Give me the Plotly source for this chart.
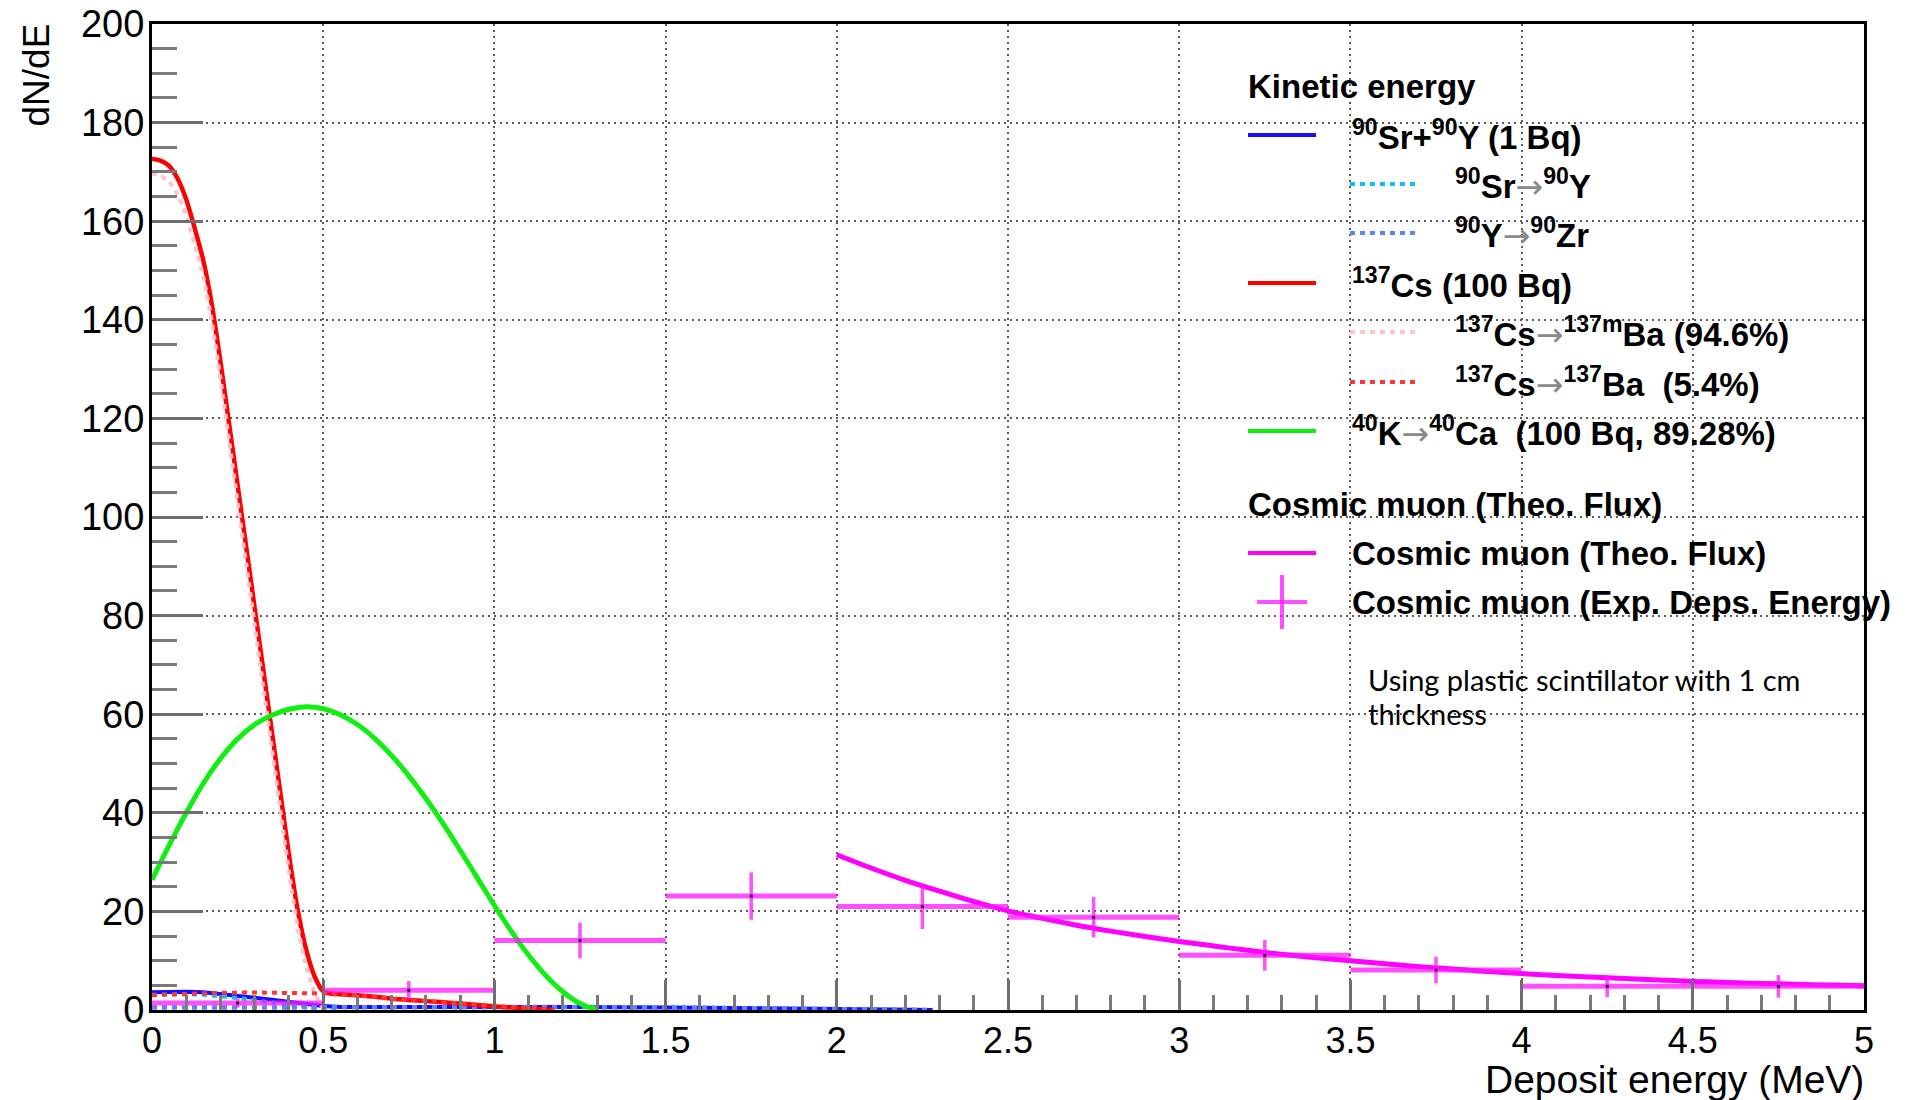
import plotly.graph_objects as go

# ---------------- spectra (dN/dE vs deposit energy in MeV) ----------------
# 90Sr + 90Y total (1 Bq)
sry_e = [0.00, 0.05, 0.10, 0.15, 0.20, 0.25, 0.30, 0.35, 0.40, 0.45, 0.50, 0.55,
         0.75, 1.00, 1.25, 1.50, 1.75, 2.00, 2.15, 2.28]
sry_v = [3.6, 3.7, 3.7, 3.6, 3.3, 3.0, 2.5, 2.1, 1.6, 1.2, 0.8, 0.6,
         0.63, 0.63, 0.6, 0.52, 0.42, 0.25, 0.1, 0.0]

# 90Sr -> 90Y branch
sr_e = [0.00, 0.05, 0.10, 0.15, 0.20, 0.25, 0.30, 0.35, 0.40, 0.45, 0.50, 0.546]
sr_v = [3.1, 3.2, 3.2, 3.1, 2.8, 2.45, 1.95, 1.5, 1.0, 0.6, 0.2, 0.0]

# 90Y -> 90Zr branch
y_e = [0.00, 0.25, 0.50, 0.75, 1.00, 1.25, 1.50, 1.75, 2.00, 2.15, 2.28]
y_v = [0.5, 0.55, 0.6, 0.63, 0.63, 0.6, 0.52, 0.42, 0.25, 0.1, 0.0]

# 137Cs total (100 Bq)
cs_e = [0.000, 0.025, 0.050, 0.075, 0.100, 0.125, 0.150, 0.175, 0.200, 0.225,
        0.250, 0.275, 0.300, 0.325, 0.350, 0.375, 0.400, 0.425, 0.450, 0.475,
        0.500, 0.525, 0.550, 0.600, 0.650, 0.700, 0.750, 0.800, 0.850, 0.900,
        0.950, 1.000, 1.050, 1.100, 1.150, 1.175]
cs_v = [172.7, 172.3, 171.2, 168.6, 164.4, 158.5, 152.0, 143.0, 131.5, 119.0,
        106.5, 94.0, 81.5, 69.0, 56.5, 44.0, 31.5, 20.5, 12.3, 6.8,
        3.8, 3.3, 3.2, 3.0, 2.7, 2.3, 2.05, 1.8, 1.55, 1.3,
        1.0, 0.72, 0.48, 0.28, 0.1, 0.0]

# 137Cs -> 137mBa (94.6 %)
csm_e = [0.000, 0.025, 0.050, 0.075, 0.100, 0.125, 0.150, 0.175, 0.200, 0.225,
         0.250, 0.275, 0.300, 0.325, 0.350, 0.375, 0.400, 0.425, 0.450, 0.475,
         0.500, 0.514]
csm_v = [169.7, 169.2, 168.0, 165.4, 161.1, 155.1, 148.6, 139.5, 128.0, 115.5,
         103.0, 90.5, 78.0, 65.5, 53.0, 40.5, 28.0, 17.0, 8.9, 3.4,
         0.45, 0.0]

# 137Cs -> 137Ba (5.4 %)
csg_e = [0.00, 0.10, 0.20, 0.30, 0.40, 0.50, 0.55, 0.60, 0.65, 0.70, 0.75,
         0.80, 0.85, 0.90, 0.95, 1.00, 1.05, 1.10, 1.15, 1.175]
csg_v = [3.0, 3.3, 3.5, 3.55, 3.5, 3.35, 3.2, 3.0, 2.7, 2.3, 2.05,
         1.8, 1.55, 1.3, 1.0, 0.72, 0.48, 0.28, 0.1, 0.0]

# 40K -> 40Ca (100 Bq, 89.28 %)
k_e = [0.00, 0.05, 0.10, 0.15, 0.20, 0.25, 0.30, 0.35, 0.40, 0.45, 0.50, 0.55,
       0.60, 0.65, 0.70, 0.75, 0.80, 0.85, 0.90, 0.95, 1.00, 1.05, 1.10, 1.15,
       1.20, 1.25, 1.30]
k_v = [26.4, 33.4, 40.0, 46.0, 51.0, 55.0, 57.9, 59.8, 61.0, 61.5, 61.1, 59.9,
       57.9, 55.1, 51.6, 47.5, 42.9, 37.8, 32.4, 26.8, 21.2, 15.9, 11.1, 7.0,
       3.7, 1.3, 0.0]

# Cosmic muon, theoretical flux
mu_e = [2.0, 2.1, 2.2, 2.3, 2.4, 2.5, 2.6, 2.7, 2.8, 2.9, 3.0, 3.1, 3.2, 3.3,
        3.4, 3.5, 3.6, 3.7, 3.8, 3.9, 4.0, 4.1, 4.2, 4.3, 4.4, 4.5, 4.6, 4.7,
        4.8, 4.9, 5.0]
mu_v = [31.5, 28.8, 26.3, 24.1, 22.0, 20.1, 18.6, 17.2, 16.0, 14.9, 13.9, 13.0,
        12.1, 11.3, 10.6, 10.0, 9.4, 8.8, 8.3, 7.8, 7.4, 7.0, 6.7, 6.4, 6.1,
        5.8, 5.6, 5.4, 5.2, 5.05, 4.9]

# Cosmic muon, measured deposited energy (0.5 MeV bins)
exp_e = [0.25, 0.75, 1.25, 1.75, 2.25, 2.75, 3.25, 3.75, 4.25, 4.75]
exp_v = [1.4, 4.0, 14.1, 23.1, 21.0, 18.8, 11.1, 8.1, 4.8, 4.8]
exp_err = [0.9, 1.9, 3.6, 4.8, 4.6, 4.1, 3.1, 2.7, 2.2, 2.3]
exp_half_bin = 0.25

# ---------------- colours ----------------
C_BLUE = "#1a0dff"
C_CYAN = "#12b9ff"
C_LBLUE = "#5b84f7"
C_RED = "#ff0000"
C_PINK = "#ffc2cb"
C_RED2 = "#ff3434"
C_GREEN = "#11ee11"
C_MAG = "#ff00ff"
C_MAGE = "rgba(255,20,255,0.75)"

fig = go.Figure()


def curve(x, y, color, dash="solid", width=4.5, shape="linear", smoothing=1.0):
    line = dict(color=color, width=width, dash=dash, shape=shape)
    if shape == "spline":
        line["smoothing"] = smoothing
    fig.add_trace(go.Scatter(x=x, y=y, mode="lines", hoverinfo="skip", line=line))


curve(sry_e, sry_v, C_BLUE, width=4)
curve(sr_e, sr_v, C_CYAN, dash="5px,5px", width=4)
curve(y_e, y_v, C_LBLUE, dash="5px,5px", width=4.5)
curve(cs_e, cs_v, C_RED, shape="spline", smoothing=0.6)
curve(csm_e, csm_v, C_PINK, dash="5px,5px", width=4, shape="spline", smoothing=0.6)
curve(csg_e, csg_v, C_RED2, dash="5px,5px", width=4)
curve(k_e, k_v, C_GREEN, width=5, shape="spline")
curve(mu_e, mu_v, C_MAG, width=5, shape="spline")

fig.add_trace(go.Scatter(
    x=exp_e, y=exp_v, mode="markers", hoverinfo="skip",
    marker=dict(size=3, color="black"),
    error_x=dict(type="constant", value=exp_half_bin, thickness=5, width=0,
                 color=C_MAGE),
    error_y=dict(type="data", array=exp_err, thickness=3.5, width=0,
                 color=C_MAGE),
))

# ---------------- frame geometry (pixels) ----------------
W, H = 1919, 1100
L, R, T, B = 152, 55, 24, 90
PW, PH = W - L - R, H - T - B


def fx(p):
    return (p - L) / PW


def fy(p):
    return (H - B - p) / PH


FONT = "Liberation Sans, Arial, Helvetica, sans-serif"
axis_style = dict(showgrid=True, gridcolor="#5a5a5a", gridwidth=2, griddash="2px,4px",
                  zeroline=False, showline=True, linecolor="black", linewidth=3,
                  mirror=True, ticks="inside", tickcolor="#6e6e6e", tickwidth=3,
                  automargin=False)

fig.update_layout(
    width=W, height=H,
    margin=dict(l=L, r=R, t=T, b=B, autoexpand=False),
    paper_bgcolor="white", plot_bgcolor="white",
    showlegend=False,
    xaxis=dict(range=[0, 5], tick0=0, dtick=0.5, ticklen=30,
               ticklabelstandoff=-3,
               tickfont=dict(family=FONT, size=36, color="black"),
               minor=dict(dtick=0.1, ticks="inside", ticklen=15, tickwidth=3,
                          tickcolor="#7a7a7a", showgrid=False),
               **axis_style),
    yaxis=dict(range=[0, 200], tick0=0, dtick=20, ticklen=51,
               ticklabelstandoff=-3,
               tickfont=dict(family=FONT, size=38, color="black"),
               minor=dict(dtick=5, ticks="inside", ticklen=25, tickwidth=3,
                          tickcolor="#7a7a7a", showgrid=False),
               **axis_style),
)

# axis titles
fig.add_annotation(text="Deposit energy (MeV)", xref="paper", yref="paper",
                   x=fx(1866), y=fy(1079), xanchor="right", yanchor="middle",
                   showarrow=False, font=dict(family=FONT, size=39, color="black"))
fig.add_annotation(text="dN/dE", xref="paper", yref="paper", textangle=-90,
                   x=fx(36), y=fy(22), xanchor="center", yanchor="top",
                   showarrow=False, font=dict(family=FONT, size=37, color="black"))

# ---------------- legend ----------------
LFONT = dict(family=FONT, size=33, color="black", weight="bold")
ARROW = ('<span style="color:#8a8a8a;font-family:DejaVu Sans;font-weight:normal">'
         '\u2192</span>')


def ltext(text, x, y, font=LFONT):
    fig.add_annotation(text=text, xref="paper", yref="paper", x=fx(x), y=fy(y),
                       xanchor="left", yanchor="middle", showarrow=False,
                       align="left", font=font)


def lline(x0, x1, y, color, dash="solid", width=4):
    fig.add_shape(type="line", xref="paper", yref="paper", x0=fx(x0), x1=fx(x1),
                  y0=fy(y), y1=fy(y), line=dict(color=color, width=width, dash=dash))


MAIN_L, MAIN_R, MAIN_T = 1248, 1316, 1350
SUB_L, SUB_R, SUB_T = 1350, 1420, 1453

ltext("Kinetic energy", 1246, 86)

ltext("<sup>90</sup>Sr+<sup>90</sup>Y (1 Bq)", MAIN_T, 135)
lline(MAIN_L, MAIN_R, 135, C_BLUE)

ltext("<sup>90</sup>Sr" + ARROW + "<sup>90</sup>Y", SUB_T, 184)
lline(SUB_L, SUB_R, 184, C_CYAN, dash="5px,5px")

ltext("<sup>90</sup>Y" + ARROW + "<sup>90</sup>Zr", SUB_T, 233)
lline(SUB_L, SUB_R, 233, C_LBLUE, dash="5px,5px")

ltext("<sup>137</sup>Cs (100 Bq)", MAIN_T, 283)
lline(MAIN_L, MAIN_R, 283, C_RED)

ltext("<sup>137</sup>Cs" + ARROW + "<sup>137m</sup>Ba (94.6%)", SUB_T, 332)
lline(SUB_L, SUB_R, 332, C_PINK, dash="5px,5px")

ltext("<sup>137</sup>Cs" + ARROW + "<sup>137</sup>Ba \u00a0(5.4%)", SUB_T, 382)
lline(SUB_L, SUB_R, 382, C_RED2, dash="5px,5px")

ltext("<sup>40</sup>K" + ARROW + "<sup>40</sup>Ca \u00a0(100 Bq, 89.28%)", MAIN_T, 431)
lline(MAIN_L, MAIN_R, 431, C_GREEN)

ltext("Cosmic muon (Theo. Flux)", 1246, 504)

ltext("Cosmic muon (Theo. Flux)", MAIN_T, 553)
lline(MAIN_L, MAIN_R, 553, C_MAG)

ltext("Cosmic muon (Exp. Deps. Energy)", MAIN_T, 602)
lline(1257, 1307, 602, C_MAGE)
fig.add_shape(type="line", xref="paper", yref="paper", x0=fx(1282), x1=fx(1282),
              y0=fy(575), y1=fy(629), line=dict(color=C_MAGE, width=4))

NOTE_FONT = dict(family="Lato, sans-serif", size=29, color="black")
ltext("Using plastic scintillator with 1 cm", 1366, 679, font=NOTE_FONT)
ltext("thickness", 1366, 713, font=NOTE_FONT)

fig.write_html("out.html")
